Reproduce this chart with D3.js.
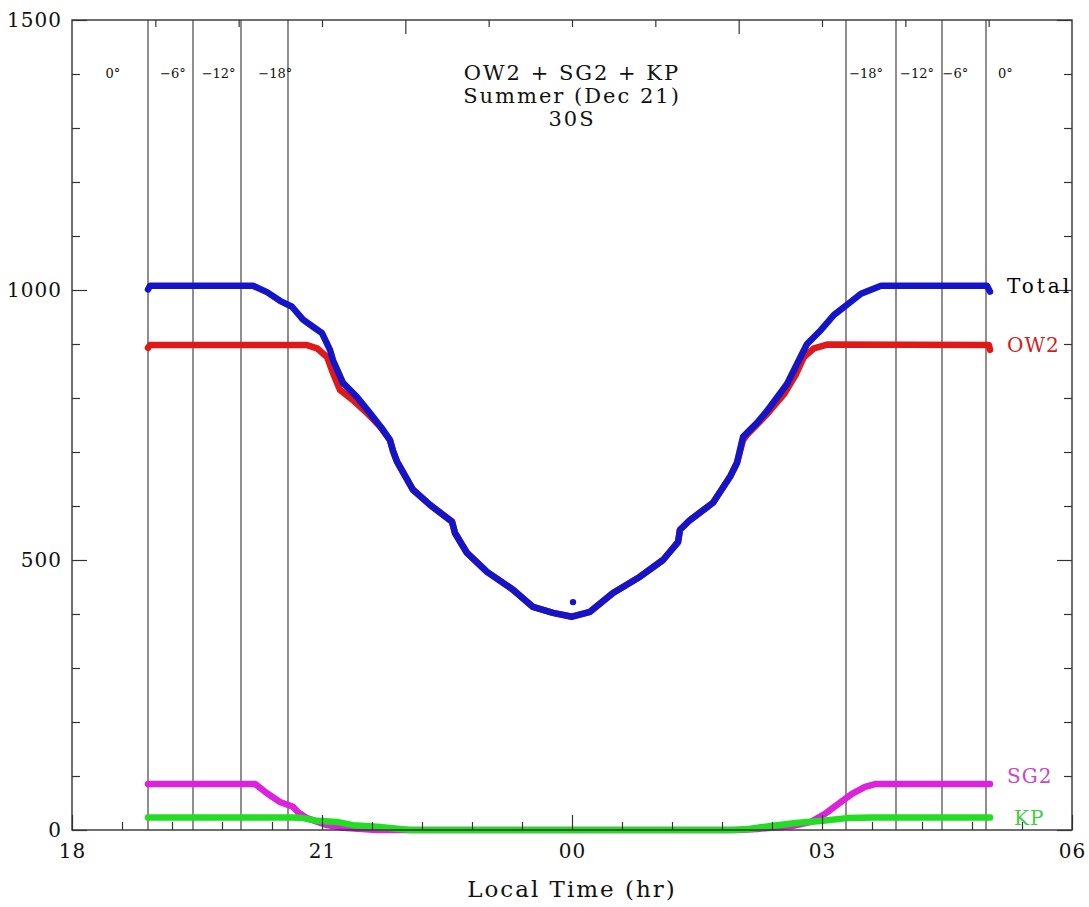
<!DOCTYPE html>
<html>
<head>
<meta charset="utf-8">
<script src="https://cdn.jsdelivr.net/npm/d3@7"></script>
<style>
  html, body { margin: 0; padding: 0; background: #fff; }
  svg { display: block; }
  text { font-family: "DejaVu Serif", "Liberation Serif", serif; }
</style>
</head>
<body>
<svg id="chart" width="1089" height="907"></svg>
<script>
// ---------------- DATA (hours after 18:00 on a continuous clock: 24 = 00, 30 = 06) ----------------
const titleLines = ["OW2 + SG2 + KP", "Summer (Dec 21)", "30S"];
const xLabel = "Local Time (hr)";
const xMajorTicks = [18, 21, 24, 27, 30];
const xTickLabels = ["18", "21", "00", "03", "06"];
const yMajorTicks = [0, 500, 1000, 1500];
const yTickLabels = ["0", "500", "1000", "1500"];

// twilight (sun elevation) boundary lines and their labels
const twilightLines = [18.912, 19.452, 20.028, 20.592, 27.288, 27.888, 28.44, 28.968];
const angleLabels = ["0°", "−6°", "−12°", "−18°", "−18°", "−12°", "−6°", "0°"];
const angleLabelTimes = [18.49, 19.21, 19.76, 20.44, 27.53, 28.14, 28.60, 29.20];

// Total (blue)
const totalTime = [18.912, 18.936, 20.172, 20.34, 20.496, 20.64, 20.772, 20.892, 21.0, 21.096, 21.132, 21.252, 21.42, 21.576, 21.732, 21.816, 21.852,
  21.90, 22.092, 22.296, 22.56,
  22.596, 22.74, 22.98, 23.292, 23.532, 23.772, 24.0, 24.216, 24.492, 24.816, 25.092, 25.272,
  25.296, 25.416, 25.692, 25.896, 25.98,
  26.052, 26.22, 26.34, 26.58, 26.70, 26.82, 26.988, 27.144, 27.312, 27.468, 27.708, 28.98, 29.016];
const totalValue = [1001, 1008, 1008, 996, 980, 969, 945, 932, 920, 889, 870, 828, 802, 772, 741, 722, 702,
  682, 630, 602, 571,
  550, 513, 478, 445, 413, 402, 395, 404, 439, 469, 500, 533,
  556, 574, 606, 654, 680,
  728, 754, 776, 826, 863, 900, 926, 954, 974, 993, 1008, 1008, 997];
const totalSpikeTime = [24.012];
const totalSpikeValue = [422];

// OW2 (red); the middle part lies under the Total trace
const ow2Time = [18.912, 18.936, 20.82, 20.94, 21.06, 21.132, 21.216, 21.372, 21.54, 21.696, 21.816, 21.852,
  21.90, 22.092, 22.296, 22.56,
  22.596, 22.74, 22.98, 23.292, 23.532, 23.772, 24.0, 24.216, 24.492, 24.816, 25.092, 25.272,
  25.296, 25.416, 25.692, 25.896, 25.98,
  26.052, 26.10, 26.34, 26.544, 26.688, 26.784, 26.904, 27.06, 29.004, 29.016];
const ow2Value = [893, 898, 898, 892, 876, 846, 815, 796, 772, 747, 722, 702,
  682, 630, 602, 571,
  550, 513, 478, 445, 413, 402, 395, 404, 439, 469, 500, 533,
  556, 574, 606, 654, 680,
  722, 732, 770, 807, 844, 876, 892, 899, 898, 889];

// SG2 (magenta)
const sg2Time = [18.912, 20.20, 20.34, 20.496, 20.652, 20.712, 20.82, 21.06, 21.252, 21.66, 25.98, 26.22, 26.628, 26.868, 27.036, 27.192, 27.36, 27.516, 27.636, 29.016];
const sg2Value = [85, 85, 68, 52, 43, 33, 22, 9, 4, 0, 0, 2, 7, 15, 30, 48, 67, 80, 85, 85];

// KP (green)
const kpTime = [18.912, 20.652, 20.772, 20.94, 21.18, 21.372, 21.66, 21.936, 22.056, 25.92, 26.124, 26.364, 26.688, 27.012, 27.30, 27.60, 29.016];
const kpValue = [23, 23, 22, 17, 15, 9, 6, 2, 0, 0, 2, 7, 13, 17, 22, 23, 23];

const seriesNames = ["OW2", "Total", "SG2", "KP"];

// ---------------- LAYOUT / STYLE ----------------
const svg = d3.select("#chart");
const M = { left: 72, right: 1072, top: 20, bottom: 830 };
const x = d3.scaleLinear().domain([18, 30]).range([M.left, M.right]);
const y = d3.scaleLinear().domain([0, 1500]).range([M.bottom, M.top]);

const colors = { Total: "#1414c8", OW2: "#e01818", SG2: "#dd22dd", KP: "#22dd22" };
const labelColors = { Total: "#000", OW2: "#cc2222", SG2: "#cc44cc", KP: "#44cc44" };
const axisColor = "#333";

const series = {
  Total: totalTime.map((t, i) => ({ t, v: totalValue[i] })),
  OW2: ow2Time.map((t, i) => ({ t, v: ow2Value[i] })),
  SG2: sg2Time.map((t, i) => ({ t, v: sg2Value[i] })),
  KP: kpTime.map((t, i) => ({ t, v: kpValue[i] }))
};

// twilight lines
svg.append("g").selectAll("line").data(twilightLines).join("line")
  .attr("x1", d => x(d)).attr("x2", d => x(d))
  .attr("y1", M.top).attr("y2", M.bottom)
  .attr("stroke", "#444").attr("stroke-width", 1.2);

svg.append("g").selectAll("text").data(angleLabels).join("text")
  .attr("x", (d, i) => x(angleLabelTimes[i]))
  .attr("y", 78)
  .attr("text-anchor", "middle")
  .attr("font-size", 13)
  .attr("fill", "#111")
  .text(d => d);

// series lines
const line = d3.line().x(d => x(d.t)).y(d => y(d.v));
const gS = svg.append("g");
seriesNames.forEach(name => {
  gS.append("path").datum(series[name])
    .attr("d", line)
    .attr("fill", "none")
    .attr("stroke", colors[name])
    .attr("stroke-width", 6.5)
    .attr("stroke-linejoin", "round")
    .attr("stroke-linecap", "round");
});
gS.selectAll("circle.spike").data(totalSpikeTime).join("circle")
  .attr("class", "spike")
  .attr("cx", d => x(d)).attr("cy", (d, i) => y(totalSpikeValue[i]))
  .attr("r", 3.2).attr("fill", colors.Total);

// axes (inward ticks)
function styleAxis(g) {
  g.select(".domain").remove();
  g.selectAll(".tick line").attr("stroke", axisColor).attr("stroke-width", 1.2);
  g.selectAll(".tick text").attr("font-family", "DejaVu Serif").attr("font-size", 20)
    .attr("letter-spacing", 1).attr("fill", "#111");
}
const xMinor = d3.range(0, 21).map(i => 18 + i * 0.6).filter(v => !xMajorTicks.some(m => Math.abs(m - v) < 1e-6));
svg.append("g").attr("transform", `translate(0,${M.bottom})`)
  .call(d3.axisBottom(x).tickValues(xMajorTicks).tickSize(-15).tickPadding(14)
    .tickFormat((d, i) => xTickLabels[i])).call(styleAxis);
svg.append("g").attr("transform", `translate(0,${M.bottom})`)
  .call(d3.axisBottom(x).tickValues(xMinor).tickSize(-8).tickFormat("")).call(styleAxis);

const topMinor = d3.range(19, 30).filter(h => h !== 22 && h !== 26);
svg.append("g").attr("transform", `translate(0,${M.top})`)
  .call(d3.axisTop(x).tickValues([22, 26]).tickSize(-14).tickFormat("")).call(styleAxis);
svg.append("g").attr("transform", `translate(0,${M.top})`)
  .call(d3.axisTop(x).tickValues(topMinor).tickSize(-7).tickFormat("")).call(styleAxis);

const yMinor = d3.range(100, 1500, 100).filter(v => v % 500 !== 0);
svg.append("g").attr("transform", `translate(${M.left},0)`)
  .call(d3.axisLeft(y).tickValues(yMajorTicks).tickSize(-15).tickPadding(10)
    .tickFormat((d, i) => yTickLabels[i])).call(styleAxis);
svg.append("g").attr("transform", `translate(${M.left},0)`)
  .call(d3.axisLeft(y).tickValues(yMinor).tickSize(-8).tickFormat("")).call(styleAxis);
svg.append("g").attr("transform", `translate(${M.right},0)`)
  .call(d3.axisRight(y).tickValues(yMajorTicks).tickSize(-15).tickFormat("")).call(styleAxis);
svg.append("g").attr("transform", `translate(${M.right},0)`)
  .call(d3.axisRight(y).tickValues(yMinor).tickSize(-8).tickFormat("")).call(styleAxis);

// frame
svg.append("rect").attr("x", M.left).attr("y", M.top)
  .attr("width", M.right - M.left).attr("height", M.bottom - M.top)
  .attr("fill", "none").attr("stroke", axisColor).attr("stroke-width", 1.4);

// title
svg.append("g").selectAll("text").data(titleLines).join("text")
  .attr("x", 572).attr("y", (d, i) => 80 + i * 23)
  .attr("text-anchor", "middle").attr("font-size", 21).attr("fill", "#111")
  .attr("letter-spacing", 2)
  .text(d => d);

// x-axis title
svg.append("text").attr("x", 572).attr("y", 897)
  .attr("text-anchor", "middle").attr("font-size", 23).attr("fill", "#111")
  .attr("letter-spacing", 2)
  .text(xLabel);

// series labels at right end
const labelPos = {
  Total: { x: 1007, v: 1008, ls: 3 },
  OW2: { x: 1007, v: 898, ls: 1 },
  SG2: { x: 1007, v: 100, ls: 1 },
  KP: { x: 1014, v: 23, ls: 1 }
};
["Total", "OW2", "SG2", "KP"].forEach(name => {
  svg.append("text")
    .attr("x", labelPos[name].x).attr("y", y(labelPos[name].v))
    .attr("dy", "0.36em")
    .attr("font-size", 20).attr("fill", labelColors[name])
    .attr("letter-spacing", labelPos[name].ls)
    .text(name);
});
</script>
</body>
</html>
